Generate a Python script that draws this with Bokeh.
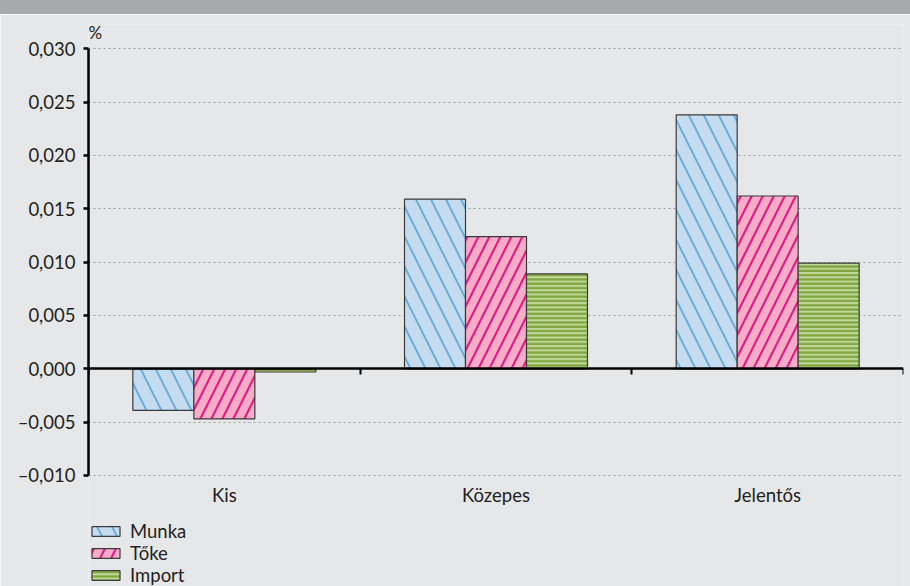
from bokeh.plotting import figure
from bokeh.models import (Range1d, FixedTicker, LinearAxis, Grid, Label, Legend,
                          LegendItem, Div, CustomJSTickFormatter, ColumnDataSource)
from bokeh.transform import dodge
from bokeh.layouts import column
from bokeh.embed import file_html
from bokeh.resources import INLINE

# --- data -----------------------------------------------------------------
categories = ["Kis", "Közepes", "Jelentős"]
munka = [-0.0039, 0.0159, 0.0238]
toke = [-0.0047, 0.0124, 0.0162]
importv = [-0.0003, 0.0089, 0.0099]
series_names = ["Munka", "Tőke", "Import"]
y_ticks = [-0.010, -0.005, 0.000, 0.005, 0.010, 0.015, 0.020, 0.025, 0.030]

FONT = "Lato"
TEXT = "#231f20"
BG = "#e6e7e8"

source = ColumnDataSource(dict(
    pos=[i + 0.5 for i in range(len(categories))],
    munka=munka, toke=toke, importv=importv,
))

# The frame covers the whole lower canvas so that the unit label and the legend
# (drawn outside the value range) are not clipped; axes are bounded instead.
y_lo, y_hi = y_ticks[0], y_ticks[-1]
span = y_hi - y_lo
p = figure(width=910, height=572, output_backend="svg", toolbar_location=None,
           x_range=Range1d(0, len(categories)),
           y_range=Range1d(y_lo - span * 0.2602, y_hi + span * 0.0570),
           x_axis_type=None, y_axis_type=None,
           min_border_left=88, min_border_right=7, min_border_top=10, min_border_bottom=0,
           background_fill_color=BG, border_fill_color=BG, outline_line_color=None)

# dotted horizontal gridlines
tick_src = FixedTicker(ticks=y_ticks)
p.add_layout(Grid(dimension=1, ticker=tick_src, grid_line_color="#9c9ea1",
                  grid_line_dash="2 3", grid_line_width=1))

# bars
bw = 0.2245
styles = [
    ("munka", -bw, "#c5dcf0", "#6eacd8", "\\", 30, 2.0),
    ("toke", 0.0, "#f7adc8", "#e11e87", "/", 22, 2.2),
    ("importv", bw, "#c4d79b", "#80a640", "-", 4.3, 2.3),
]
renderers = []
for field, off, fill, hatch, pat, scale, weight in styles:
    r = p.vbar(x=dodge("pos", off, range=p.x_range), top=field, bottom=0, width=bw,
               source=source, fill_color=fill, hatch_pattern=pat, hatch_color=hatch,
               hatch_scale=scale, hatch_weight=weight, line_color="#3a3a3a", line_width=1.2)
    renderers.append(r)

# y axis
yfmt = CustomJSTickFormatter(code="""
    const s = Math.abs(tick).toFixed(3).replace('.', ',');
    return (tick < -1e-9 ? '\u2013' : '') + s;
""")
yaxis = LinearAxis(ticker=tick_src, formatter=yfmt, bounds=(y_lo, y_hi),
                   axis_line_color="black", axis_line_width=2.5,
                   major_tick_line_color="black", major_tick_line_width=2.5,
                   major_tick_out=5, major_tick_in=0, minor_tick_line_color=None,
                   major_label_standoff=8, major_label_text_font=FONT,
                   major_label_text_font_size="18.5px", major_label_text_color=TEXT)
p.add_layout(yaxis, "left")

# category names under the value range
xfmt = CustomJSTickFormatter(args=dict(names=categories),
                             code="return names[Math.round(tick - 0.5)];")
cat_axis = LinearAxis(fixed_location=y_lo,
                      ticker=FixedTicker(ticks=[i + 0.5 for i in range(len(categories))]),
                      formatter=xfmt, axis_line_color=None, major_tick_line_color=None,
                      minor_tick_line_color=None, major_tick_out=0, major_tick_in=0,
                      major_label_standoff=9, major_label_text_font=FONT,
                      major_label_text_font_size="18.5px", major_label_text_color=TEXT)
p.add_layout(cat_axis, "below")

# zero line with category separators
zero_axis = LinearAxis(fixed_location=0,
                       ticker=FixedTicker(ticks=list(range(len(categories) + 1))),
                       formatter=CustomJSTickFormatter(code="return '';"),
                       axis_line_color="black", axis_line_width=2.5,
                       major_tick_line_color="black", major_tick_line_width=2,
                       major_tick_out=6, major_tick_in=0, minor_tick_line_color=None)
p.add_layout(zero_axis, "below")

# unit label
p.add_layout(Label(x=0, y=y_hi, text="%", x_offset=0, y_offset=16,
                   text_baseline="alphabetic", text_font=FONT, text_font_size="17px",
                   text_color=TEXT))

# legend under the chart
legend = Legend(items=[LegendItem(label=n, renderers=[r]) for n, r in zip(series_names, renderers)],
                location=(0, 0), orientation="vertical",
                glyph_width=35, glyph_height=12, label_height=22, spacing=0,
                padding=0, margin=0, label_standoff=7,
                label_text_font=FONT, label_text_font_size="18.5px", label_text_color=TEXT,
                background_fill_alpha=0, border_line_color=None)
p.add_layout(legend)

band = Div(width=910, height=14, margin=0, styles={"background-color": "#a7a9ac"})
layout = column(band, p, spacing=0, margin=0)

open("out.html", "w").write(file_html(layout, INLINE))
